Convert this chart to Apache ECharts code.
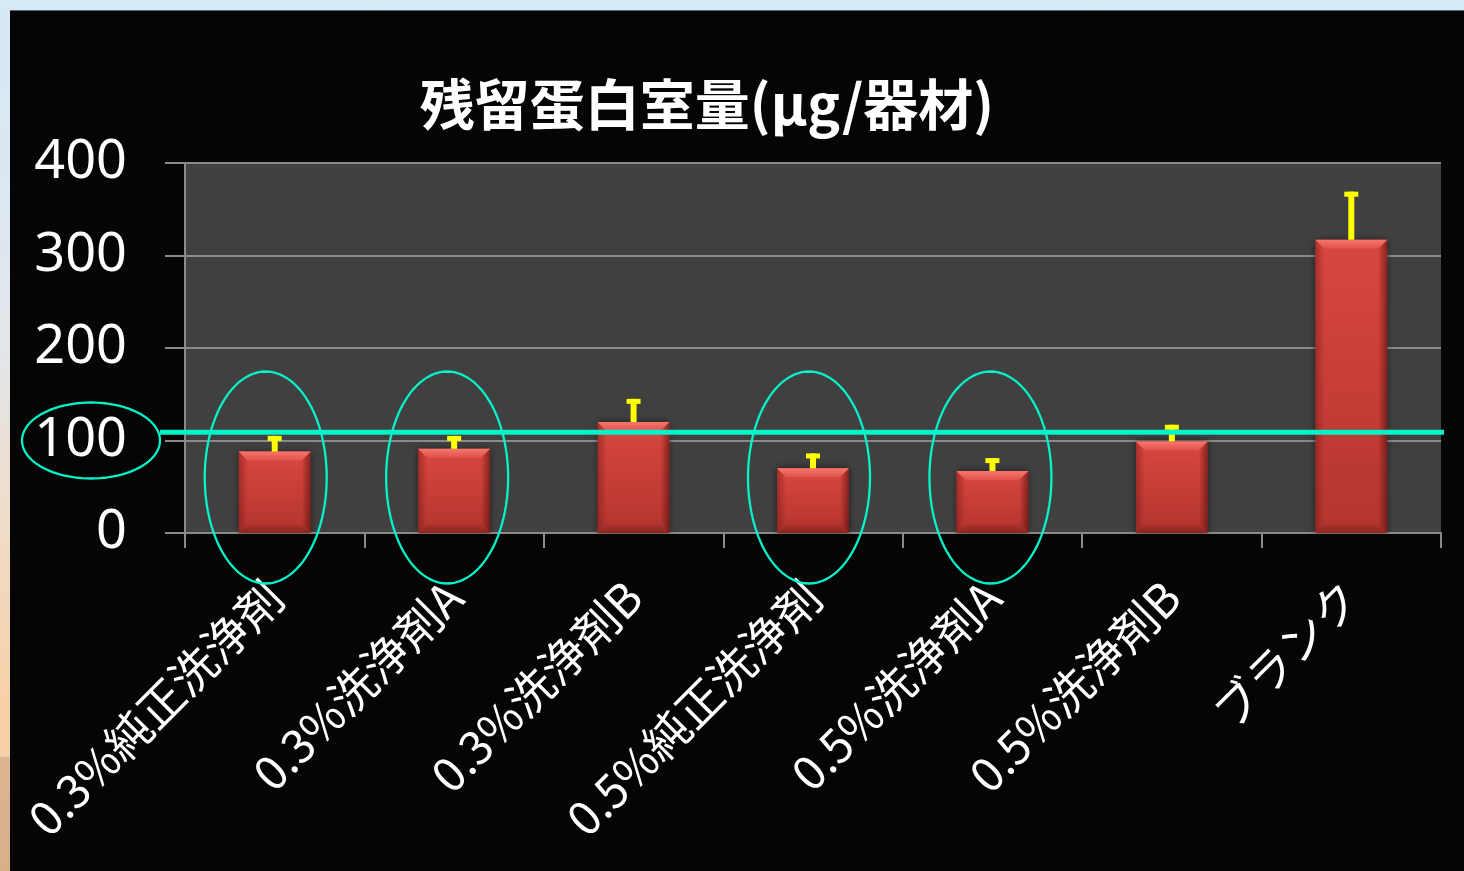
<!DOCTYPE html>
<html>
<head>
<meta charset="utf-8">
<script src="https://cdn.jsdelivr.net/npm/echarts@6/dist/echarts.min.js"></script>
<style>
  html, body { margin: 0; padding: 0; background: #000; }
  #chart { width: 1464px; height: 871px; }
</style>
</head>
<body>
<div id="chart"></div>
<script>
// Residual protein per instrument, by cleaning agent
const categories = ['0.3%純正洗浄剤', '0.3%洗浄剤A', '0.3%洗浄剤B', '0.5%純正洗浄剤', '0.5%洗浄剤A', '0.5%洗浄剤B', 'ブランク'];
const residual = [88, 91, 120, 70, 67, 99, 317];
const errorUpper = [17, 14, 25, 16, 14, 18, 52];
const yTicks = [0, 100, 200, 300, 400];
const referenceLevel = 109;
const circledCategories = [0, 1, 3, 4];
const circledTick = 100;
const titleText = '残留蛋白室量(μg/器材)';

const GRID = { left: 185, top: 163, right: 23, bottom: 338 };
const AXIS_GRAY = '#8a8a8a';
const CYAN = '#06f2c9';
// hand-drawn circles sit slightly left of each category centre (px)
const CIRCLE_SHIFT = [-9, -7, 0, -4, -2];

const chart = echarts.init(document.getElementById('chart'), null, { renderer: 'canvas' });

// ellipse outline as a polygon
function ellipsePoints(cx, cy, rx, ry) {
  const pts = [];
  const n = 96;
  for (let k = 0; k < n; k++) {
    const t = (k / n) * Math.PI * 2;
    pts.push([cx + rx * Math.cos(t), cy + ry * Math.sin(t)]);
  }
  return pts;
}

const option = {
  backgroundColor: '#050505',
  animation: false,
  graphic: [
    { type: 'rect', silent: true, z: 100, shape: { x: 0, y: 0, width: 1464, height: 10 }, style: { fill: '#d6e9f6' } },
    { type: 'line', silent: true, z: 100, shape: { x1: 10, y1: 10.5, x2: 1464, y2: 10.5 }, style: { stroke: '#5c6670', lineWidth: 1 } },
    {
      type: 'rect', silent: true, z: 100, shape: { x: 0, y: 0, width: 10, height: 871 },
      style: {
        fill: new echarts.graphic.LinearGradient(0, 0, 0, 1, [
          { offset: 0, color: '#d6e9f6' },
          { offset: 0.4, color: '#e2e6ea' },
          { offset: 0.6, color: '#f0dcc8' },
          { offset: 0.8, color: '#f7d1aa' },
          { offset: 0.868, color: '#f6d0a8' },
          { offset: 0.870, color: '#dcb590' },
          { offset: 1, color: '#d8b08a' }
        ])
      }
    },
    {
      type: 'text', silent: true, z: 100, x: 707, y: 104,
      style: {
        text: titleText, fill: '#ffffff', align: 'center', verticalAlign: 'middle',
        font: 'bold 55px "Noto Sans CJK JP", sans-serif'
      }
    }
  ],
  grid: {
    left: GRID.left, top: GRID.top, right: GRID.right, bottom: GRID.bottom,
    show: true, backgroundColor: '#404040', borderWidth: 0
  },
  xAxis: {
    type: 'category',
    data: categories,
    axisLine: { show: true, lineStyle: { color: AXIS_GRAY, width: 2 } },
    axisTick: { show: true, length: 15, alignWithLabel: false, lineStyle: { color: AXIS_GRAY, width: 2 } },
    axisLabel: {
      interval: 0, rotate: 45, margin: 56,
      color: '#ffffff', fontSize: 46, fontFamily: '"Noto Sans CJK JP", sans-serif'
    },
    splitLine: { show: false }
  },
  yAxis: {
    type: 'value',
    min: yTicks[0], max: yTicks[yTicks.length - 1], interval: yTicks[1] - yTicks[0],
    axisLine: { show: true, lineStyle: { color: AXIS_GRAY, width: 2 } },
    axisTick: { show: true, length: 20, lineStyle: { color: AXIS_GRAY, width: 2 } },
    axisLabel: { margin: 58, color: '#ffffff', fontSize: 54, fontFamily: '"Noto Sans", sans-serif' },
    splitLine: { show: true, lineStyle: { color: AXIS_GRAY, width: 2 } }
  },
  series: [
    {
      // bar bodies
      type: 'bar',
      data: residual,
      barWidth: '40%',
      z: 2,
      itemStyle: {
        color: new echarts.graphic.LinearGradient(0, 0, 0, 1, [
          { offset: 0, color: '#d8473f' },
          { offset: 1, color: '#b4352f' }
        ]),
        shadowColor: 'rgba(0,0,0,0.6)', shadowBlur: 7
      }
    },
    {
      // bevelled edges on each bar
      type: 'custom',
      z: 3,
      silent: true,
      data: residual.map((v, i) => [i, v]),
      renderItem: function (params, api) {
        const top = api.coord([api.value(0), api.value(1)]);
        const base = api.coord([api.value(0), 0]);
        const w = api.size([1, 0])[0] * 0.4;
        const x0 = top[0] - w / 2, x1 = top[0] + w / 2;
        const y0 = top[1], y1 = base[1];
        const b = 9;
        return {
          type: 'group',
          children: [
            { type: 'polygon', shape: { points: [[x0, y0], [x0 + b, y0 + b], [x0 + b, y1 - b], [x0, y1]] },
              style: { fill: new echarts.graphic.LinearGradient(0, 0, 1, 0, [
                { offset: 0, color: 'rgba(110,20,18,0.45)' }, { offset: 1, color: 'rgba(110,20,18,0)' }]) } },
            { type: 'polygon', shape: { points: [[x1, y0], [x1 - b, y0 + b], [x1 - b, y1 - b], [x1, y1]] },
              style: { fill: new echarts.graphic.LinearGradient(1, 0, 0, 0, [
                { offset: 0, color: 'rgba(80,10,10,0.6)' }, { offset: 1, color: 'rgba(80,10,10,0)' }]) } },
            { type: 'polygon', shape: { points: [[x0, y1], [x0 + b, y1 - b], [x1 - b, y1 - b], [x1, y1]] },
              style: { fill: new echarts.graphic.LinearGradient(0, 1, 0, 0, [
                { offset: 0, color: 'rgba(90,15,15,0.45)' }, { offset: 1, color: 'rgba(90,15,15,0.1)' }]) } },
            { type: 'polygon', shape: { points: [[x0, y0], [x1, y0], [x1 - b, y0 + b], [x0 + b, y0 + b]] },
              style: { fill: new echarts.graphic.LinearGradient(0, 0, 0, 1, [
                { offset: 0, color: '#f7756d' }, { offset: 1, color: '#e0524b' }]) } }
          ]
        };
      }
    },
    {
      // upper error bars
      type: 'custom',
      z: 4,
      silent: true,
      data: residual.map((v, i) => [i, v, v + errorUpper[i]]),
      renderItem: function (params, api) {
        const low = api.coord([api.value(0), api.value(1)]);
        const high = api.coord([api.value(0), api.value(2)]);
        const cx = low[0];
        return {
          type: 'group',
          children: [
            { type: 'rect', shape: { x: cx - 3, y: high[1], width: 6, height: low[1] - high[1] }, style: { fill: '#ffff00' } },
            { type: 'rect', shape: { x: cx - 7, y: high[1], width: 14, height: 5 }, style: { fill: '#ffff00' } }
          ]
        };
      }
    },
    {
      // reference line and highlight circles
      type: 'custom',
      z: 5,
      silent: true,
      clip: false,
      data: [[0, referenceLevel]],
      renderItem: function (params, api) {
        const lineY = api.coord([0, api.value(1)])[1];
        const children = [
          { type: 'line', shape: { x1: 160, y1: lineY, x2: 1444, y2: lineY }, style: { stroke: CYAN, lineWidth: 5 } }
        ];
        const band = api.size([1, 0])[0];
        circledCategories.forEach(function (c) {
          const p = api.coord([c, 60]);
          children.push({
            type: 'polygon',
            shape: { points: ellipsePoints(p[0] + (CIRCLE_SHIFT[c] || 0), p[1], band * 0.34, 106) },
            style: { fill: null, stroke: CYAN, lineWidth: 2.3 }
          });
        });
        const t = api.coord([0, circledTick]);
        children.push({
          type: 'polygon',
          shape: { points: ellipsePoints(GRID.left - 94, t[1], 69, 38) },
          style: { fill: null, stroke: CYAN, lineWidth: 2.3 }
        });
        return { type: 'group', children: children };
      }
    }
  ]
};

chart.setOption(option);
</script>
</body>
</html>
